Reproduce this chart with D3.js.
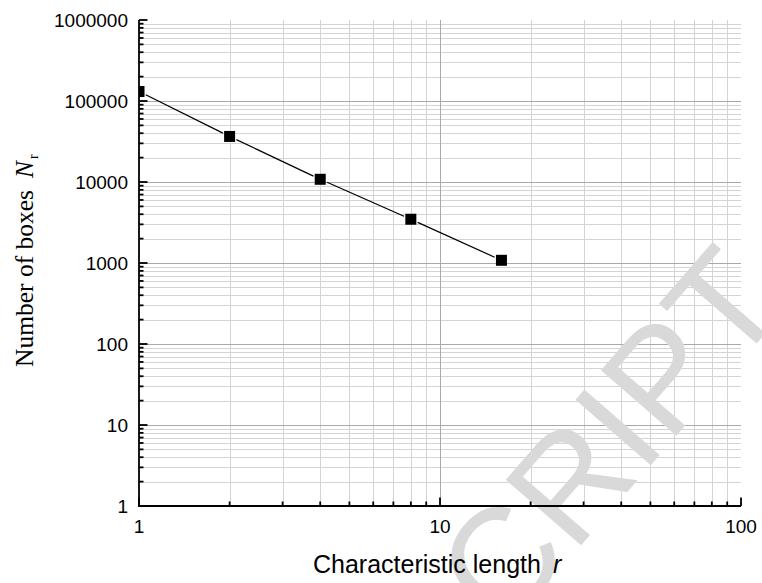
<!DOCTYPE html>
<html>
<head>
<meta charset="utf-8">
<script src="https://cdn.jsdelivr.net/npm/d3@7"></script>
<style>
  html, body { margin: 0; padding: 0; background: #fff; }
  svg { display: block; }
</style>
</head>
<body>
<svg id="chart" width="762" height="583"></svg>
<script>
// Box-counting data: characteristic length r vs. number of boxes N_r
const lengths = [1, 2, 4, 8, 16];
const boxCounts = [131000, 36500, 10800, 3470, 1080];

const xTickValues = [1, 10, 100];
const xTickLabels = ["1", "10", "100"];
const yTickValues = [1, 10, 100, 1000, 10000, 100000, 1000000];
const yTickLabels = ["1", "10", "100", "1000", "10000", "100000", "1000000"];

const xTitle = "Characteristic length";
const xTitleVar = "r";
const yTitle = "Number of boxes";
const yTitleVar = "N";
const yTitleSub = "r";
const watermark = "ACCEPTED MANUSCRIPT";

const W = 762, H = 583;
const margin = { left: 139, right: 21, top: 20, bottom: 77 };

const svg = d3.select("#chart");

const x = d3.scaleLog().domain([1, 100]).range([margin.left, W - margin.right]);
const y = d3.scaleLog().domain([1, 1000000]).range([H - margin.bottom, margin.top]);

const [x0, x1] = x.range();
const [y0, y1] = y.range(); // y0 bottom, y1 top

// minor tick positions: 2..9 within each decade
function minorValues(lo, hi) {
  const out = [];
  for (let d = lo; d < hi; d *= 10) {
    for (let m = 2; m <= 9; m++) out.push(d * m);
  }
  return out;
}
const xMinor = minorValues(1, 100);
const yMinor = minorValues(1, 1000000);

const minorGrid = "#d4d4d4";
const majorGrid = "#a9a9a9";

// grid lines
const grid = svg.append("g");
grid.selectAll(".vminor").data(xMinor).join("line")
  .attr("x1", d => Math.round(x(d)) + 0.5).attr("x2", d => Math.round(x(d)) + 0.5)
  .attr("y1", y1).attr("y2", y0)
  .attr("stroke", minorGrid).attr("stroke-width", 1);
grid.selectAll(".hminor").data(yMinor).join("line")
  .attr("x1", x0).attr("x2", x1)
  .attr("y1", d => Math.round(y(d)) + 0.5).attr("y2", d => Math.round(y(d)) + 0.5)
  .attr("stroke", minorGrid).attr("stroke-width", 1);
grid.selectAll(".vmajor").data(xTickValues.slice(1, -1)).join("line")
  .attr("x1", d => Math.round(x(d)) + 0.5).attr("x2", d => Math.round(x(d)) + 0.5)
  .attr("y1", y1).attr("y2", y0)
  .attr("stroke", majorGrid).attr("stroke-width", 1);
grid.selectAll(".hmajor").data(yTickValues.slice(1, -1)).join("line")
  .attr("x1", x0).attr("x2", x1)
  .attr("y1", d => Math.round(y(d)) + 0.5).attr("y2", d => Math.round(y(d)) + 0.5)
  .attr("stroke", majorGrid).attr("stroke-width", 1);

// faint diagonal stamp across the lower right
svg.append("text")
  .attr("transform", "translate(790,305) rotate(-49)")
  .attr("text-anchor", "end")
  .attr("font-family", "'Liberation Sans', Arial, sans-serif")
  .attr("font-size", 145)
  .attr("fill", "#d9d9d9")
  .text(watermark);

// connecting line, trimmed so it stops just short of each marker
const pts = lengths.map((r, i) => [x(r), y(boxCounts[i])]);
const gap = 7.5;
const segs = [];
for (let i = 0; i < pts.length - 1; i++) {
  const [ax, ay] = pts[i], [bx, by] = pts[i + 1];
  const len = Math.hypot(bx - ax, by - ay);
  const ux = (bx - ax) / len, uy = (by - ay) / len;
  segs.push([ax + ux * gap, ay + uy * gap, bx - ux * gap, by - uy * gap]);
}
svg.append("g").selectAll("line").data(segs).join("line")
  .attr("x1", d => d[0]).attr("y1", d => d[1])
  .attr("x2", d => d[2]).attr("y2", d => d[3])
  .attr("stroke", "#000").attr("stroke-width", 1.2);

// markers, clipped to the plot area
svg.append("clipPath").attr("id", "plotClip")
  .append("rect").attr("x", x0).attr("y", y1).attr("width", x1 - x0).attr("height", y0 - y1);
const ms = 11;
svg.append("g").attr("clip-path", "url(#plotClip)")
  .selectAll("rect").data(lengths).join("rect")
  .attr("x", (d) => x(d) - ms / 2)
  .attr("y", (d, i) => y(boxCounts[i]) - ms / 2)
  .attr("width", ms).attr("height", ms)
  .attr("fill", "#000");

// axes
const axisW = 1.8;
const ax = svg.append("g").attr("stroke", "#000").attr("stroke-width", axisW);
ax.append("line").attr("x1", x0).attr("x2", x0).attr("y1", y1).attr("y2", y0 + axisW / 2);
ax.append("line").attr("x1", x0 - axisW / 2).attr("x2", x1).attr("y1", y0).attr("y2", y0);

const majorLen = 8.5, minorLen = 4.5;
ax.selectAll(".ytm").data(yTickValues).join("line")
  .attr("x1", x0).attr("x2", x0 + majorLen)
  .attr("y1", d => y(d)).attr("y2", d => y(d));
ax.selectAll(".ytn").data(yMinor).join("line")
  .attr("x1", x0).attr("x2", x0 + minorLen)
  .attr("y1", d => y(d)).attr("y2", d => y(d));
ax.selectAll(".xtm").data(xTickValues).join("line")
  .attr("x1", d => x(d)).attr("x2", d => x(d))
  .attr("y1", y0).attr("y2", y0 - majorLen);
ax.selectAll(".xtn").data(xMinor).join("line")
  .attr("x1", d => x(d)).attr("x2", d => x(d))
  .attr("y1", y0).attr("y2", y0 - minorLen);

// tick labels
const sans = "'Liberation Sans', Arial, sans-serif";
svg.append("g").selectAll("text").data(yTickValues).join("text")
  .attr("x", x0 - 11)
  .attr("y", d => y(d) + 6.8)
  .attr("text-anchor", "end")
  .attr("font-family", sans).attr("font-size", 19)
  .text((d, i) => yTickLabels[i]);
svg.append("g").selectAll("text").data(xTickValues).join("text")
  .attr("x", d => x(d))
  .attr("y", y0 + 27)
  .attr("text-anchor", "middle")
  .attr("font-family", sans).attr("font-size", 19)
  .text((d, i) => xTickLabels[i]);

// axis titles
const xt = svg.append("text")
  .attr("x", 313).attr("y", 573)
  .attr("font-family", sans).attr("font-size", 25);
xt.append("tspan").text(xTitle);
xt.append("tspan").attr("dx", 12).attr("font-style", "italic").text(xTitleVar);

const serif = "'Liberation Serif', 'Times New Roman', serif";
const yt = svg.append("text")
  .attr("transform", "translate(33,367) rotate(-90)")
  .attr("font-family", serif).attr("font-size", 25.5);
yt.append("tspan").text(yTitle);
yt.append("tspan").attr("dx", 12).attr("font-style", "italic").text(yTitleVar);
yt.append("tspan").attr("dx", 2).attr("dy", 5).attr("font-size", 14).text(yTitleSub);
</script>
</body>
</html>
